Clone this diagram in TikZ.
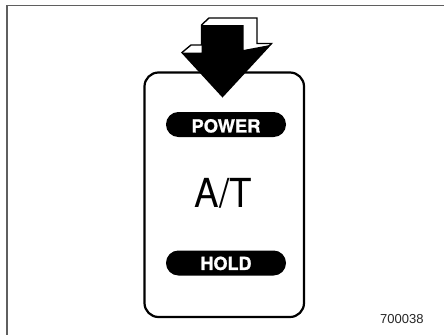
\documentclass[tikz,border=0pt]{standalone}
\usepackage{fontspec}
\setmainfont{TeX Gyre Heros}
\newfontfamily\numfont{Liberation Sans}
\newfontfamily\pillfont{TeX Gyre Heros}[BoldFeatures={FakeBold=1.2}]
\definecolor{framegray}{RGB}{95,95,95}
\tikzset{
  pillbg/.style={fill=black, rounded corners=12.4pt},
  pilltext/.style={inner sep=0pt, text=white, font=\pillfont\bfseries\fontsize{18}{18}\selectfont, text height=12.9pt, text depth=0pt},
  panelbox/.style={draw=black, line width=2.2pt, rounded corners=14pt},
  arrowback/.style={fill=white, draw=black, line width=1.4pt, line join=miter},
}
\begin{document}
\begin{tikzpicture}[x=1pt,y=-1pt]
\useasboundingbox (0,0) rectangle (444,335);
\fill[white] (0,0) rectangle (444,335);
% outer frame (only top and left visible)
\draw[framegray, line width=1.6pt] (444,5.5) -- (7,5.5) -- (7,335);
% panel
\draw[panelbox] (144.5,72.5) rectangle (304,317);
% 3D arrow: back silhouette
\draw[arrowback] (182,52.5) -- (191,45) -- (201.5,45) -- (201.5,25) -- (209,18) -- (257,18)
  -- (257,43.5) -- (271.5,43.5) -- (222.5,96.5) -- cycle;
% front face (black)
\fill[black] (201.5,25) -- (243.5,25) -- (243.5,50) -- (270,45) -- (222.5,96.5)
  -- (182,52.5) -- (201.5,52.5) -- cycle;
% pills
\fill[pillbg] (166,112) rectangle (286,137);
\fill[pillbg] (166,250.5) rectangle (286,275.5);
\node[pilltext] (power) at (226,126) {\scalebox{1.02}[1]{POWER}};
\node[pilltext] (hold) at (226,263.5) {HOLD};
\node[inner sep=0pt, font=\fontsize{40}{40}\selectfont, text height=28.7pt, text depth=0pt]
  (at) at (223.5,193.5) {\scalebox{0.92}[1]{A/T}};
\node[anchor=base west, inner sep=0pt, font=\numfont\fontsize{13}{13}\selectfont, text=black!85]
  (code) at (380,323) {700038};
\end{tikzpicture}
\end{document}
